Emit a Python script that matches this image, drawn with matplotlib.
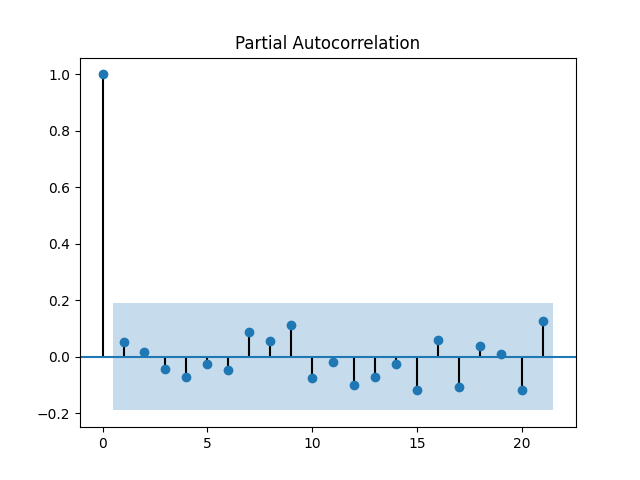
import numpy as np
import matplotlib
matplotlib.use("Agg")
import matplotlib.pyplot as plt

lags = np.arange(22)
pacf_vals = [1.0, 0.052, 0.017, -0.045, -0.070, -0.026, -0.048, 0.087, 0.056, 0.112,
             -0.077, -0.019, -0.101, -0.070, -0.026, -0.119, 0.059, -0.108, 0.038,
             0.009, -0.119, 0.126]
conf = 0.19

fig, ax = plt.subplots(figsize=(6.4, 4.8), dpi=100)
ax.vlines(lags, [0], pacf_vals, colors="black")
ax.axhline(0, color="C0")
ax.plot(lags, pacf_vals, "o", color="C0", markersize=6)
band_x = np.concatenate(([0.5], lags[1:-1], [lags[-1] + 0.5]))
ax.fill_between(band_x, -conf, conf, alpha=0.25, linewidth=0)
ax.set_title("Partial Autocorrelation")
fig.savefig("out.png", dpi=100)
